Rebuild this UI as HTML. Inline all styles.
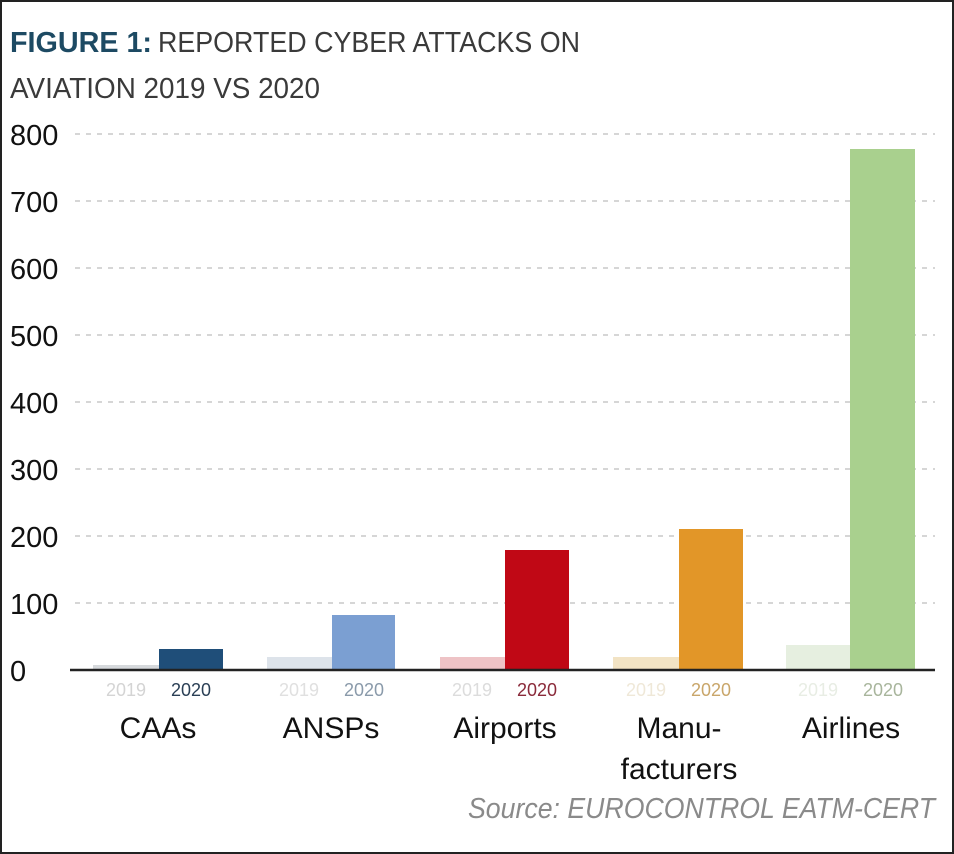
<!DOCTYPE html>
<html><head><meta charset="utf-8"><style>
html,body{margin:0;padding:0;background:#fff}
svg{display:block}
</style></head><body>
<svg width="954" height="854" viewBox="0 0 954 854" xmlns="http://www.w3.org/2000/svg" font-family="Liberation Sans, sans-serif">
<rect x="0" y="0" width="954" height="854" fill="#fff"/>
<rect x="0.5" y="0.5" width="953" height="853" fill="none" stroke="#222" stroke-width="3"/>
<text x="10" y="52" font-size="29" fill="#1d4a63" font-weight="bold" textLength="142" lengthAdjust="spacingAndGlyphs">FIGURE 1:</text>
<text x="158" y="52" font-size="29" fill="#3a3a3a" textLength="422" lengthAdjust="spacingAndGlyphs">REPORTED CYBER ATTACKS ON</text>
<text x="10" y="98" font-size="29" fill="#3a3a3a" textLength="310" lengthAdjust="spacingAndGlyphs">AVIATION 2019 VS 2020</text>
<g stroke="#c8c8c8" stroke-width="1.5" stroke-dasharray="5,6">
<line x1="75" y1="134" x2="935" y2="134"/><line x1="75" y1="201" x2="935" y2="201"/>
<line x1="75" y1="268" x2="935" y2="268"/><line x1="75" y1="335" x2="935" y2="335"/>
<line x1="75" y1="402" x2="935" y2="402"/><line x1="75" y1="469" x2="935" y2="469"/>
<line x1="75" y1="536" x2="935" y2="536"/><line x1="75" y1="603" x2="935" y2="603"/>
</g>
<g font-size="29" fill="#111">
<text x="10" y="145">800</text><text x="10" y="212">700</text><text x="10" y="279">600</text>
<text x="10" y="346">500</text><text x="10" y="413">400</text><text x="10" y="480">300</text>
<text x="10" y="547">200</text><text x="10" y="614">100</text><text x="10" y="681">0</text>
</g>
<rect x="93" y="665" width="66" height="5" fill="#d6d9dc"/>
<rect x="159" y="649" width="64" height="21" fill="#1f4e79"/>
<rect x="267" y="657" width="65" height="13" fill="#dde3ea"/>
<rect x="332" y="615" width="63" height="55" fill="#7b9fd2"/>
<rect x="440" y="657" width="65" height="13" fill="#eec3c6"/>
<rect x="505" y="550" width="64" height="120" fill="#c00815"/>
<rect x="613" y="657" width="66" height="13" fill="#f2e3c4"/>
<rect x="679" y="529" width="64" height="141" fill="#e29628"/>
<rect x="786" y="645" width="64" height="25" fill="#e6efe0"/>
<rect x="850" y="149" width="65" height="521" fill="#a9d08e"/>
<line x1="70" y1="670" x2="935" y2="670" stroke="#222" stroke-width="2.5"/>
<g font-size="18" text-anchor="middle">
<text x="126" y="696" fill="#d4d4d4">2019</text><text x="191" y="696" fill="#2a3f55">2020</text>
<text x="299" y="696" fill="#e0e0e0">2019</text><text x="364" y="696" fill="#8a9aaa">2020</text>
<text x="472" y="696" fill="#dcdcdc">2019</text><text x="537" y="696" fill="#8a2a3a">2020</text>
<text x="646" y="696" fill="#efe8d8">2019</text><text x="711" y="696" fill="#c9a66a">2020</text>
<text x="818" y="696" fill="#e8ede4">2019</text><text x="883" y="696" fill="#a8b59c">2020</text>
</g>
<g font-size="30" fill="#111" text-anchor="middle">
<text x="158" y="738">CAAs</text><text x="331" y="738">ANSPs</text><text x="505" y="738">Airports</text>
<text x="679" y="738">Manu-</text><text x="679" y="779">facturers</text><text x="851" y="738">Airlines</text>
</g>
<text x="935" y="818" font-size="29" font-style="italic" fill="#8a8a8a" text-anchor="end" textLength="467" lengthAdjust="spacingAndGlyphs">Source: EUROCONTROL EATM-CERT</text>
</svg>
</body></html>
